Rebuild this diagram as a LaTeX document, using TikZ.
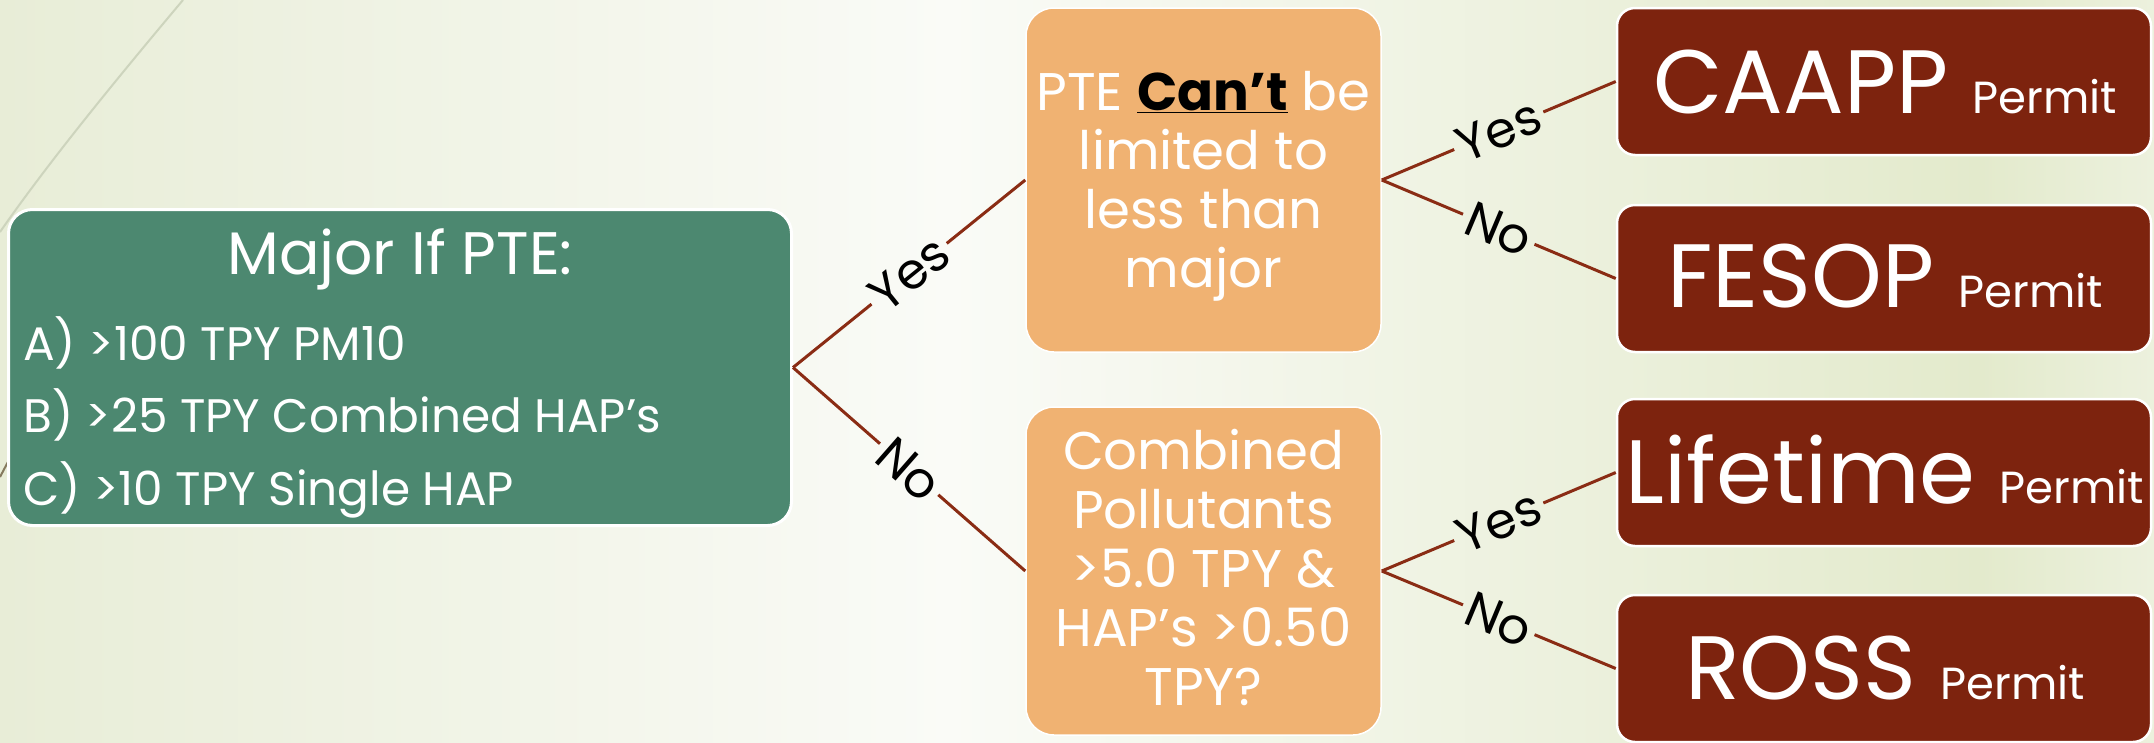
\documentclass[tikz,border=0pt]{standalone}
\usepackage{fontspec}
\setmainfont{Poppins}
\definecolor{majorgreen}{HTML}{4C8870}
\definecolor{testorange}{HTML}{F0B272}
\definecolor{permitred}{HTML}{7D230E}
\definecolor{branchred}{HTML}{8A2C14}
\definecolor{bgleft}{HTML}{E8EDD7}
\definecolor{bgmid}{HTML}{FAFBF7}
\definecolor{bgright}{HTML}{E3EACC}
\definecolor{wisp}{HTML}{CDD4BD}
\definecolor{wispdark}{HTML}{857A5E}
\newcommand{\titlesize}{\fontsize{60}{72}\selectfont}
\newcommand{\listsize}{\fontsize{47}{56}\selectfont}
\newcommand{\testsize}{\fontsize{53}{59}\selectfont}
\newcommand{\permitsize}{\fontsize{90}{96}\selectfont}
\newcommand{\permitword}{{\fontsize{45}{45}\selectfont Permit}}
\newcommand{\answersize}{\fontsize{50}{50}\selectfont}
\tikzstyle{majorbox}=[rectangle, rounded corners=24pt, draw=white, line width=3pt, fill=majorgreen, minimum width=783pt, minimum height=316pt, inner sep=0pt]
\tikzstyle{testbox}=[rectangle, rounded corners=28pt, draw=white, line width=1.5pt, fill=testorange, minimum width=355pt, inner sep=0pt]
\tikzstyle{permitbox}=[rectangle, rounded corners=18pt, draw=white, line width=2.5pt, fill=permitred, minimum width=534pt, minimum height=147pt, inner sep=0pt]
\tikzstyle{titletext}=[text=white, anchor=base, inner sep=0pt, font=\titlesize]
\tikzstyle{listtext}=[text=white, anchor=base west, inner sep=0pt, font=\listsize]
\tikzstyle{testtext}=[text=white, anchor=base, align=center, inner sep=0pt, font=\testsize]
\tikzstyle{permittext}=[text=white, anchor=base, inner sep=0pt, font=\permitsize]
\tikzstyle{answer}=[sloped, inner sep=5pt, text=black, font=\answersize]
\tikzstyle{branch}=[-, draw=branchred, line width=3pt]

\begin{document}
\begin{tikzpicture}[x=1pt,y=-1pt]
	\useasboundingbox (0,0) rectangle (2154,742);
	%The background
	\shade[left color=bgleft, right color=bgmid] (0,0) rectangle (950,742);
	\shade[left color=bgmid, right color=bgright] (949,0) rectangle (1980,742);
	\shade[left color=bgright, right color=bgright!60!bgmid] (1979,0) rectangle (2154,742);
	\draw[wisp, line width=2pt] (183,0) .. controls (120,75) and (50,160) .. (0,232);
	\draw[wispdark, line width=2pt] (0,477) -- (10,458);

	%The question
	\draw (400,367.5) node[majorbox] (major) {};
	\draw (400,274) node[titletext] (major-t) {Major If PTE:};
	\draw (23,360) node[listtext] (crit-a) {A) >100 TPY PM10};
	\draw (23,432) node[listtext] (crit-b) {B) >25 TPY Combined HAP’s};
	\draw (23,505) node[listtext] (crit-c) {C) >10 TPY Single HAP};

	%The first test (base is the last line)
	\draw (1203.5,180) node[testbox, minimum height=344pt] (cant) {};
	\draw (1203.5,287) node[testtext] (cant-t) {PTE \textcolor{black}{\underline{\textbf{Can’t}}} be\\limited to\\less than\\major};

	%The second test
	\draw (1203.5,571) node[testbox, minimum height=328pt] (small) {};
	\draw (1203.5,705) node[testtext] (small-t) {Combined\\Pollutants\\>5.0 TPY \&\\HAP’s >0.50\\TPY?};

	%The permits
	\draw (1884,81.5) node[permitbox] (caapp) {};
	\draw (1885,113) node[permittext] (caapp-t) {CAAPP \permitword};
	\draw (1884,278.5) node[permitbox] (fesop) {};
	\draw (1885,307) node[permittext] (fesop-t) {FESOP \permitword};
	\draw (1884,472.5) node[permitbox] (lifetime) {};
	\draw (1885,503) node[permittext] (lifetime-t) {Lifetime \permitword};
	\draw (1884,668.5) node[permitbox] (ross) {};
	\draw (1885,699) node[permittext] (ross-t) {ROSS \permitword};

	%The branches of the question
	\path (major.east) -- node[answer] (major-yes) {Yes} (cant.west);
	\draw[branch] (major.east) -- (major-yes);
	\draw[branch] (major-yes) -- (cant.west);
	\path (major.east) -- node[answer] (major-no) {No} (small.west);
	\draw[branch] (major.east) -- (major-no);
	\draw[branch] (major-no) -- (small.west);

	%The branches of the tests
	\path (cant.east) -- node[answer] (cant-yes) {Yes} (caapp.west);
	\draw[branch] (cant.east) -- (cant-yes);
	\draw[branch] (cant-yes) -- (caapp.west);
	\path (cant.east) -- node[answer] (cant-no) {No} (fesop.west);
	\draw[branch] (cant.east) -- (cant-no);
	\draw[branch] (cant-no) -- (fesop.west);
	\path (small.east) -- node[answer] (small-yes) {Yes} (lifetime.west);
	\draw[branch] (small.east) -- (small-yes);
	\draw[branch] (small-yes) -- (lifetime.west);
	\path (small.east) -- node[answer] (small-no) {No} (ross.west);
	\draw[branch] (small.east) -- (small-no);
	\draw[branch] (small-no) -- (ross.west);
\end{tikzpicture}
\end{document}
